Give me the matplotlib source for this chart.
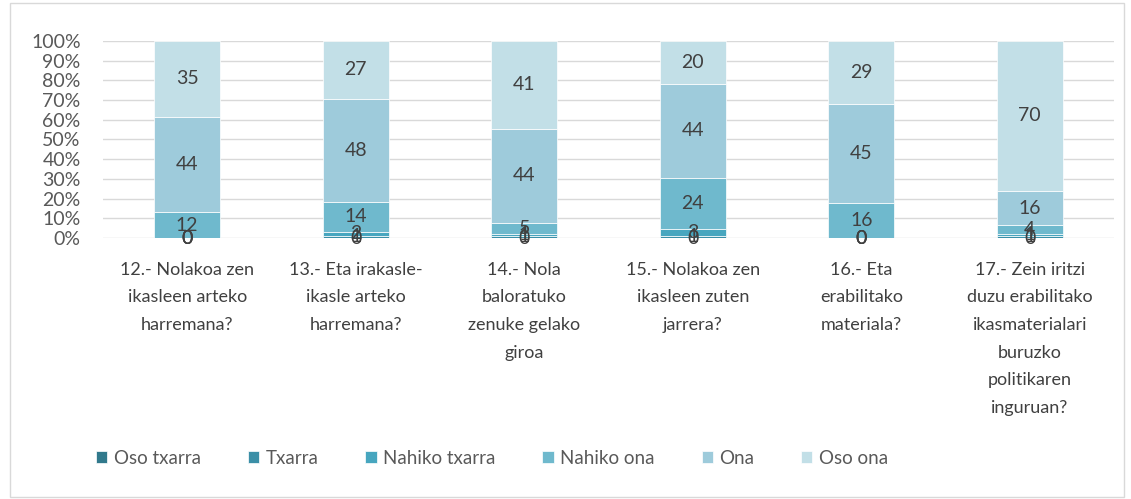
import numpy as np
import matplotlib.pyplot as plt
from matplotlib.patches import Rectangle

# Categories (questions)
categories = [
    "12.- Nolakoa zen\nikasleen arteko\nharremana?",
    "13.- Eta irakasle-\nikasle arteko\nharremana?",
    "14.- Nola\nbaloratuko\nzenuke gelako\ngiroa",
    "15.- Nolakoa zen\nikasleen zuten\njarrera?",
    "16.- Eta\nerabilitako\nmateriala?",
    "17.- Zein iritzi\nduzu erabilitako\nikasmaterialari\nburuzko\npolitikaren\ninguruan?",
]
series_names = ["Oso txarra", "Txarra", "Nahiko txarra", "Nahiko ona", "Ona", "Oso ona"]

oso_txarra = [0, 0, 0, 0, 0, 0]
txarra = [0, 1, 1, 1, 0, 1]
nahiko_txarra = [0, 2, 1, 3, 0, 1]
nahiko_ona = [12, 14, 5, 24, 16, 4]
ona = [44, 48, 44, 44, 45, 16]
oso_ona = [35, 27, 41, 20, 29, 70]

colors = ["#31798c", "#3b8fa7", "#47a6bf", "#6fb9cd", "#9ecbdb", "#c2dfe7"]

plt.rcParams['font.family'] = ['Lato', 'DejaVu Sans']

series = np.array([oso_txarra, txarra, nahiko_txarra, nahiko_ona, ona, oso_ona], dtype=float)
totals = series.sum(axis=0)
pct = series / totals * 100

fig = plt.figure(figsize=(11.31, 4.99), dpi=100)
ax = fig.add_axes([0.091, 0.523, 0.894, 0.395])

x = np.arange(len(categories))
bottom = np.zeros(len(categories))
for i, name in enumerate(series_names):
    bars = ax.bar(x, pct[i], 0.39, bottom=bottom, color=colors[i], label=name,
                  edgecolor='white', linewidth=0.5, zorder=2)
    ax.bar_label(bars, labels=[f"{int(v)}" for v in series[i]], label_type='center',
                 fontsize=14, color='#404040')
    bottom += pct[i]

ax.set_xlim(-0.5, len(categories) - 0.5)
ax.set_ylim(0, 100)
ax.set_yticks(np.arange(0, 101, 10))
ax.set_yticklabels([f"{v}%" for v in range(0, 101, 10)], fontsize=14, color='#595959')
ax.set_xticks(x)
ax.set_xticklabels(categories, fontsize=13, color='#404040', linespacing=1.9, va='top')
ax.tick_params(axis='both', length=0)
ax.tick_params(axis='x', pad=17)
ax.tick_params(axis='y', pad=16)
ax.yaxis.grid(True, color='#d9d9d9', linewidth=1, zorder=0)
ax.set_axisbelow(True)
for s in ax.spines.values():
    s.set_visible(False)

fig.legend(loc='center left', bbox_to_anchor=(0.07, 0.082), ncol=6, frameon=False,
           fontsize=13.5, handlelength=0.6, handleheight=0.6, handletextpad=0.35,
           columnspacing=2.5, labelcolor='#595959')

fig.patches.append(Rectangle((0.009, 0.004), 0.985, 0.99, transform=fig.transFigure,
                             fill=False, edgecolor='#d9d9d9', linewidth=1))

fig.savefig("out.png", dpi=100)
